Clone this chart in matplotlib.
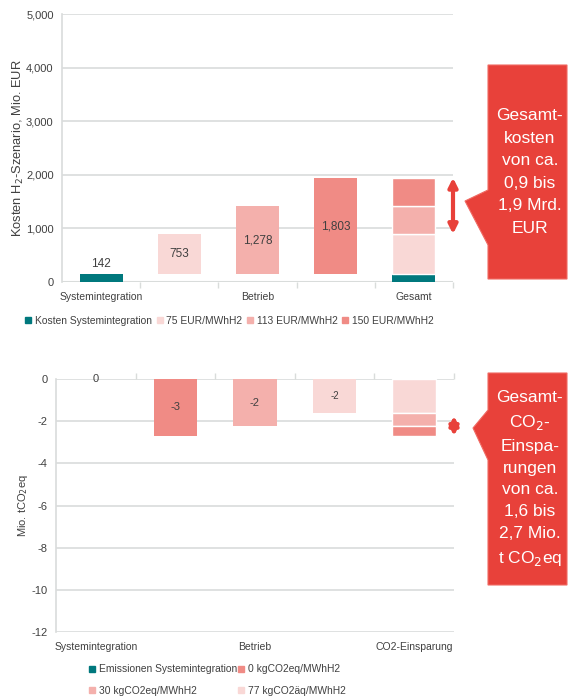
import matplotlib.pyplot as plt
from matplotlib.patches import Polygon
from matplotlib.lines import Line2D

plt.rcParams['font.family'] = ['Liberation Sans', 'DejaVu Sans']
plt.rcParams['axes.unicode_minus'] = False

# Kosten (Mio. EUR)
kosten_labels = ["Systemintegration", "", "Betrieb", "", "Gesamt"]
kosten_system = 142
betrieb_namen = ["75 EUR/MWhH2", "113 EUR/MWhH2", "150 EUR/MWhH2"]
betrieb_kosten = [753, 1278, 1803]

# CO2-Einsparung (Mio. tCO2eq)
co2_labels = ["Systemintegration", "", "Betrieb", "", "CO2-Einsparung"]
emissionen_system = 0
co2_namen = ["0 kgCO2eq/MWhH2", "30 kgCO2eq/MWhH2", "77 kgCO2äq/MWhH2"]
co2_einsparung = [-2.7, -2.25, -1.6]

teal = "#00787D"
pinks = {"light": "#F9D8D6", "mid": "#F4B0AC", "dark": "#F08B85"}
kosten_farben = [pinks["light"], pinks["mid"], pinks["dark"]]
co2_farben = [pinks["dark"], pinks["mid"], pinks["light"]]
grau = "#D9DCDB"
txt = "#404040"
rot = "#E8413A"

fig = plt.figure(figsize=(5.68, 6.98), dpi=100)
W, H = 568, 698


def style(ax):
    ax.set_xlim(-0.5, 4.5)
    for s in ["top", "right", "bottom"]:
        ax.spines[s].set_visible(False)
    ax.spines["left"].set_color(grau)
    ax.spines["left"].set_linewidth(1.2)
    ax.grid(axis="y", color=grau, linewidth=1.2)
    ax.set_axisbelow(True)
    ax.tick_params(axis="y", length=0, labelsize=8, labelcolor=txt, pad=6)
    ax.set_xticks(range(5))
    ax.tick_params(axis="x", which="major", length=0, labelsize=7.5, labelcolor=txt, pad=7)
    ax.set_xticks([0.5, 1.5, 2.5, 3.5, 4.5], minor=True)
    ax.tick_params(axis="x", which="minor", length=4, color=grau, width=1)


def doppelpfeil(ax, x, y0, y1):
    ax.annotate("", xy=(x, y1), xytext=(x, y0),
                arrowprops=dict(arrowstyle="<|-|>", color=rot, lw=3,
                                mutation_scale=13, shrinkA=0, shrinkB=0),
                annotation_clip=False)


# ---- Kosten ----
ax1 = fig.add_axes([62 / W, 1 - 282 / H, (453 - 62) / W, (282 - 14) / H])
style(ax1)
ax1.set_ylim(0, 5000)
ax1.set_yticks(range(0, 5001, 1000))
ax1.set_yticklabels([f"{v:,}" for v in range(0, 5001, 1000)])
ax1.axhline(0, color=grau, linewidth=1.5, zorder=1)
ax1.set_xticklabels(kosten_labels)

bw = 0.55
ax1.bar(0, kosten_system, width=bw, color=teal, label="Kosten Systemintegration")
ax1.text(0, kosten_system + 80, f"{kosten_system}", ha="center", va="bottom",
         fontsize=8.5, color=txt)
for i, (name, v, c) in enumerate(zip(betrieb_namen, betrieb_kosten, kosten_farben)):
    ax1.bar(i + 1, v, bottom=kosten_system, width=bw, color=c, label=name)
    ax1.text(i + 1, kosten_system + v / 2, f"{v:,}", ha="center", va="center",
             fontsize=8.5, color=txt)

# Gesamt-Stapel
ax1.bar(4, kosten_system, width=bw, color=teal)
prev = kosten_system
for v, c in zip(betrieb_kosten, kosten_farben):
    top = kosten_system + v
    ax1.bar(4, top - prev, bottom=prev, width=bw, color=c, edgecolor="white", linewidth=1)
    prev = top

doppelpfeil(ax1, 4.5, kosten_system + betrieb_kosten[0], kosten_system + betrieb_kosten[-1])
ax1.set_ylabel("Kosten H$_2$-Szenario, Mio. EUR", fontsize=9.3, color=txt)
ax1.yaxis.set_label_coords(-0.092, 0.5)

h1 = [Line2D([], [], marker="s", ls="", color=teal, markersize=4)]
h1 += [Line2D([], [], marker="s", ls="", color=c, markersize=4) for c in kosten_farben]
fig.legend(h1, ["Kosten Systemintegration"] + betrieb_namen, ncol=4,
           loc="center left", bbox_to_anchor=(16 / W, 1 - 321 / H), frameon=False,
           fontsize=7.4, handlelength=0.6, handletextpad=0.35, columnspacing=0.45,
           labelcolor=txt)

# ---- CO2 ----
ax2 = fig.add_axes([56 / W, 1 - 632 / H, (454 - 56) / W, (632 - 379) / H])
style(ax2)
ax2.set_ylim(-12, 0)
ax2.set_yticks(range(-12, 1, 2))
ax2.tick_params(axis="x", which="minor", top=True, bottom=False, direction="out")
ax2.set_xticklabels(co2_labels)
ax2.bar(0, emissionen_system, width=bw, color=teal)
ax2.text(0, emissionen_system, f"{emissionen_system:.0f}", ha="center", va="center",
         fontsize=8, color=txt)
for i, (v, c) in enumerate(zip(co2_einsparung, co2_farben)):
    ax2.bar(i + 1, v, width=bw, color=c)
    ax2.text(i + 1, v / 2, f"{v:.0f}", ha="center", va="center",
             fontsize=8 if i < 2 else 7, color=txt)
prev = 0
for v, c in zip(co2_einsparung[::-1], co2_farben[::-1]):
    ax2.bar(4, v - prev, bottom=prev, width=bw, color=c, edgecolor="white", linewidth=1)
    prev = v
doppelpfeil(ax2, 4.5, co2_einsparung[2] - 0.15, co2_einsparung[0])
ax2.set_ylabel("Mio. tCO$_2$eq", fontsize=8, color=txt)
ax2.yaxis.set_label_coords(-0.065, 0.5)

h2 = [Line2D([], [], marker="s", ls="", color=c, markersize=4)
      for c in [teal, co2_farben[1], co2_farben[0], co2_farben[2]]]
fig.legend(h2, ["Emissionen Systemintegration", co2_namen[1], co2_namen[0], co2_namen[2]],
           ncol=2, loc="center left", bbox_to_anchor=(80 / W, 1 - 680 / H), frameon=False,
           fontsize=7.4, handlelength=0.6, handletextpad=0.35, columnspacing=0.1,
           labelcolor=txt, labelspacing=1.1)


# ---- rote Hinweisboxen ----
def callout(x0, x1, y0, y1, tip, j0, j1, text, ls):
    pts = [(x0, y0), (x1, y0), (x1, y1), (x0, y1), (x0, j1), tip, (x0, j0)]
    pts = [(x / W, 1 - y / H) for x, y in pts]
    fig.patches.append(Polygon(pts, closed=True, transform=fig.transFigure,
                               facecolor=rot, edgecolor="#F06A63", linewidth=0.8))
    fig.text((x0 + x1) / 2 / W + 0.004, 1 - (y0 + y1) / 2 / H, text, ha="center",
             va="center", color="white", fontsize=12.5, linespacing=ls)


callout(488, 567, 65, 279, (465, 201), 190, 245,
        "Gesamt-\nkosten\nvon ca.\n0,9 bis\n1,9 Mrd.\nEUR", 1.62)
callout(488, 567, 373, 585, (473, 428), 410, 460,
        "Gesamt-\nCO$_2$-\nEinspa-\nrungen\nvon ca.\n1,6 bis\n2,7 Mio.\nt CO$_2$eq", 1.56)

fig.savefig("out.png", dpi=100, facecolor="white")
